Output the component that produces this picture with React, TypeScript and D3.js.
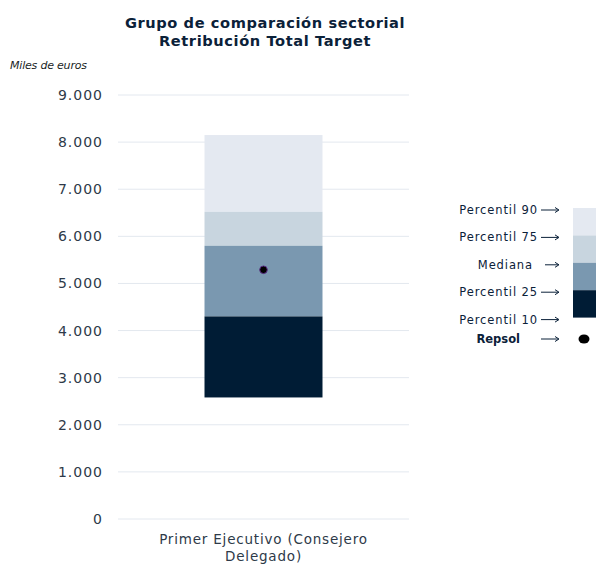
import React from "react";
import * as d3 from "d3";

const categories = ["Primer Ejecutivo (Consejero Delegado)"];
const categoryLines = [["Primer Ejecutivo (Consejero", "Delegado)"]];
const p10 = [2580];
const p25 = [4300];
const median = [5800];
const p75 = [6520];
const p90 = [8150];
const repsol = [5290];
const yTicks = [0, 1000, 2000, 3000, 4000, 5000, 6000, 7000, 8000, 9000];
const legendLabels = ["Percentil 90", "Percentil 75", "Mediana", "Percentil 25", "Percentil 10"];
const bandColors = ["#e4e9f1", "#c8d5df", "#7a98b0", "#001c35"];

const W = 596;
const H = 564;
const FONT = "'DejaVu Sans', sans-serif";
const NAVY = "#0b2139";
const GREY = "#2e3a49";

export default function App() {
  const y = d3.scaleLinear().domain([0, 9000]).range([519, 95]);
  const x = d3.scaleBand().domain(categories).range([118, 409]).padding(0.423);
  const fmt = (v: number) => d3.format(",")(v).replace(/,/g, ".");

  const bands = categories.map((c, i) => [
    { lo: p75[i], hi: p90[i], color: bandColors[0] },
    { lo: median[i], hi: p75[i], color: bandColors[1] },
    { lo: p25[i], hi: median[i], color: bandColors[2] },
    { lo: p10[i], hi: p25[i], color: bandColors[3] },
  ]);

  const legX = 573;
  const legY0 = 208;
  const legStep = 27.4;

  return (
    <svg width={W} height={H} style={{ position: "absolute", left: 0, top: 0, background: "#fff" }}>
      <text x={265} y={28} textAnchor="middle" fontFamily={FONT} fontWeight={700} fontSize={14.6} fill={NAVY} letterSpacing={0.6}>
        Grupo de comparación sectorial
      </text>
      <text x={265} y={46} textAnchor="middle" fontFamily={FONT} fontWeight={700} fontSize={14.6} fill={NAVY} letterSpacing={0.6}>
        Retribución Total Target
      </text>
      <text x={10} y={69} fontFamily={FONT} fontStyle="italic" fontSize={11} fill="#1a1f26" letterSpacing={-0.2}>
        Miles de euros
      </text>
      {yTicks.map((t) => (
        <g key={t}>
          <line x1={118} x2={409} y1={y(t)} y2={y(t)} stroke="#e3e8ef" strokeWidth={1} />
          <text x={103} y={y(t)} dy="0.36em" textAnchor="end" fontFamily={FONT} fontSize={14} fill={GREY} letterSpacing={1}>
            {fmt(t)}
          </text>
        </g>
      ))}
      {categories.map((c, i) => (
        <g key={c}>
          {bands[i].map((b, j) => (
            <rect
              key={j}
              x={x(c)}
              width={x.bandwidth()}
              y={y(b.hi)}
              height={y(b.lo) - y(b.hi)}
              fill={b.color}
            />
          ))}
          <circle cx={(x(c) as number) + x.bandwidth() / 2} cy={y(repsol[i])} r={3.8} fill="#000" stroke="#5b2d86" strokeWidth={1} />
          {categoryLines[i].map((ln, k) => (
            <text key={k} x={(x(c) as number) + x.bandwidth() / 2} y={544 + k * 17} textAnchor="middle" fontFamily={FONT} fontSize={13.5} fill={GREY} letterSpacing={0.8}>
              {ln}
            </text>
          ))}
        </g>
      ))}
      {bandColors.map((col, j) => (
        <rect key={j} x={legX} y={legY0 + j * legStep} width={30} height={legStep} fill={col} />
      ))}
      {legendLabels.map((l, j) => (
        <g key={l}>
          <text x={l === "Mediana" ? 533 : 538} y={legY0 + j * legStep + 2} dy="0.35em" textAnchor="end" fontFamily={FONT} fontSize={11.5} fill={NAVY} letterSpacing={0.9}>
            {l}
          </text>
          <line x1={l === "Mediana" ? 545 : 541} x2={558} y1={legY0 + j * legStep + 2} y2={legY0 + j * legStep + 2} stroke={NAVY} strokeWidth={1} />
          <path d={`M${555},${legY0 + j * legStep - 0.5} L${559},${legY0 + j * legStep + 2} L${555},${legY0 + j * legStep + 4.5}`} fill="none" stroke={NAVY} strokeWidth={1} />
        </g>
      ))}
      <text x={520} y={339} dy="0.35em" textAnchor="end" fontFamily={FONT} fontWeight={700} fontSize={11.5} fill={NAVY}>
        Repsol
      </text>
      <line x1={541} x2={558} y1={339} y2={339} stroke={NAVY} strokeWidth={1} />
      <path d={`M555,336.5 L559,339 L555,341.5`} fill="none" stroke={NAVY} strokeWidth={1} />
      <ellipse cx={584} cy={339} rx={5.5} ry={4.6} fill="#000" />
    </svg>
  );
}
